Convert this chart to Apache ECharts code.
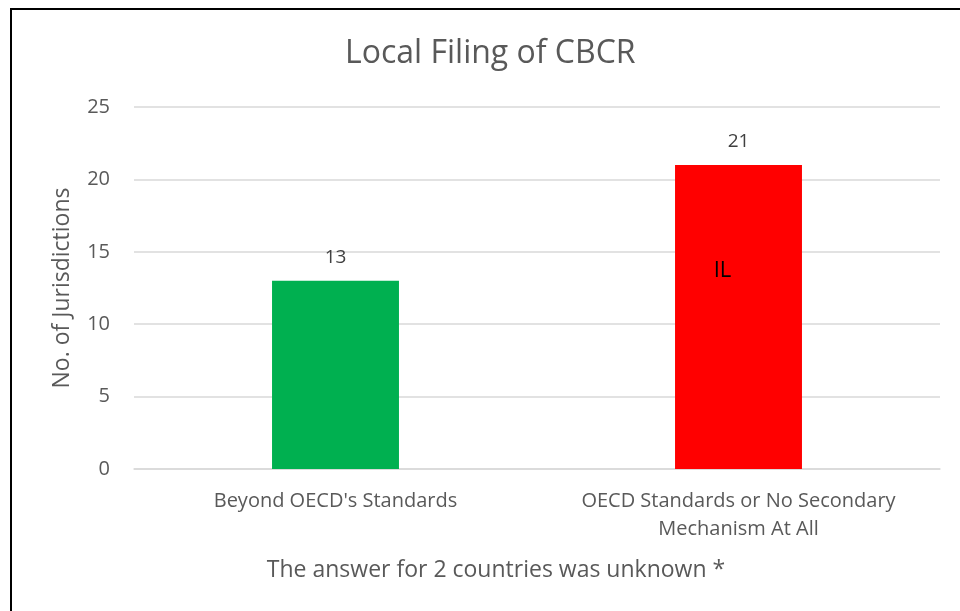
<!DOCTYPE html>
<html>
<head>
<meta charset="utf-8">
<script src="https://cdn.jsdelivr.net/npm/echarts@6/dist/echarts.min.js"></script>
<style>
  html, body { margin: 0; padding: 0; background: #fff; overflow: hidden; }
  .frame {
    position: absolute; left: 10px; top: 8px;
    width: 1000px; height: 700px;
    border: 2px solid #000;
  }
  #chart { position: absolute; left: 0; top: 0; width: 960px; height: 611px; }
</style>
</head>
<body>
<div class="frame"></div>
<div id="chart"></div>
<script>
const categories = ["Beyond OECD's Standards", 'OECD Standards or No Secondary\nMechanism At All']
const values = [13, 21]
const barColors = ['#00b050', '#ff0000']
const yTicks = [0, 5, 10, 15, 20, 25]

const font = '"Open Sans", sans-serif'

const chart = echarts.init(document.getElementById('chart'))
chart.setOption({
  animation: false,
  title: {
    text: 'Local Filing of CBCR',
    left: 340,
    top: 33,
    textStyle: { fontFamily: font, fontSize: 32, fontWeight: 'normal', color: '#595959' }
  },
  grid: { left: 134, right: 20, top: 107, bottom: 142 },
  xAxis: {
    type: 'category',
    data: categories,
    name: 'The answer for 2 countries was unknown *',
    nameLocation: 'middle',
    nameGap: 90,
    nameTextStyle: { fontFamily: font, fontSize: 23, color: '#595959', padding: [0, 82, 0, 0] },
    axisLine: { lineStyle: { color: '#d9d9d9', width: 1.5 } },
    axisTick: { show: false },
    axisLabel: { interval: 0, fontFamily: font, fontSize: 20, color: '#595959', margin: 18, lineHeight: 28 }
  },
  yAxis: {
    type: 'value',
    min: yTicks[0],
    max: yTicks[yTicks.length - 1],
    interval: 5,
    name: 'No. of Jurisdictions',
    nameLocation: 'middle',
    nameGap: 60,
    nameTextStyle: { fontFamily: font, fontSize: 23, color: '#595959' },
    axisLine: { show: false },
    axisTick: { show: false },
    axisLabel: { fontFamily: font, fontSize: 20, color: '#595959', margin: 24 },
    splitLine: { lineStyle: { color: '#d9d9d9', width: 1.5 } }
  },
  series: [{
    type: 'bar',
    barWidth: '31.5%',
    data: values.map((v, i) => ({ value: v, itemStyle: { color: barColors[i] } })),
    label: {
      show: true,
      position: 'top',
      distance: 14,
      fontFamily: font,
      fontSize: 19,
      color: '#404040'
    },
    markPoint: {
      symbol: 'circle',
      symbolSize: 0,
      data: [{ coord: [1, 13.7], value: 'IL' }],
      label: {
        show: true,
        formatter: 'IL',
        offset: [-16, 0],
        fontFamily: font,
        fontSize: 22,
        color: '#000'
      }
    }
  }]
})
</script>
</body>
</html>
